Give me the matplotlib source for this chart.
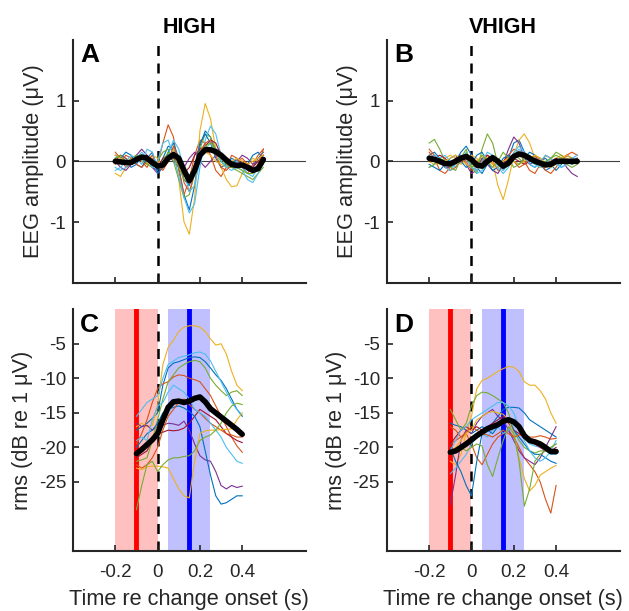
import numpy as np
import matplotlib
matplotlib.use('Agg')
import matplotlib.pyplot as plt

plt.rcParams['font.family'] = ['Liberation Sans', 'DejaVu Sans']

# time axes (s)
t_eeg = np.arange(-0.2, 0.5001, 0.025)
t_rms = np.arange(-0.1, 0.4001, 0.025)

# matlab default line colours, one per listener
subj_colors = ['#0072BD', '#D95319', '#EDB120', '#7E2F8E', '#77AC30', '#4DBEEE',
               '#A2142F', '#0072BD', '#D95319', '#EDB120', '#4DBEEE', '#77AC30']

# A: EEG amplitude, HIGH
eeg_high = [
    [0.05, 0.1, 0.0, -0.1, -0.05, 0.1, 0.05, -0.1, -0.15, 0.05, 0.25, 0.2, -0.1, -0.55, -0.8, -0.4, 0.25, 0.5, 0.4, 0.15, 0.0, -0.1, -0.05, 0.05, -0.05, -0.15, -0.1, 0.05, 0.15],
    [0.15, 0.05, -0.1, -0.05, 0.1, 0.0, -0.1, 0.05, -0.05, 0.3, 0.6, 0.4, -0.15, -0.55, -0.3, 0.1, 0.35, 0.3, 0.1, -0.15, -0.25, -0.1, 0.1, 0.05, -0.1, -0.2, -0.05, 0.1, 0.2],
    [-0.2, -0.25, -0.1, 0.05, 0.1, 0.0, -0.05, 0.1, 0.05, -0.1, 0.0, 0.2, -0.3, -1.0, -1.2, -0.6, 0.5, 0.95, 0.7, 0.2, -0.1, -0.3, -0.42, -0.4, -0.2, -0.05, 0.05, 0.0, -0.05],
    [0.0, -0.1, -0.15, -0.05, 0.1, 0.2, 0.1, -0.1, -0.2, -0.1, 0.1, 0.0, -0.1, -0.1, 0.05, 0.15, 0.0, -0.1, 0.0, 0.1, 0.05, -0.05, -0.1, 0.0, 0.1, 0.05, -0.05, 0.0, 0.1],
    [0.05, 0.0, -0.05, 0.05, 0.1, 0.05, -0.05, -0.1, 0.0, 0.15, 0.2, 0.0, -0.3, -0.6, -0.55, -0.2, 0.2, 0.45, 0.4, 0.2, 0.0, -0.1, -0.1, -0.15, -0.2, -0.25, -0.3, -0.2, -0.1],
    [-0.1, -0.15, -0.1, 0.0, 0.05, 0.15, 0.05, -0.1, 0.0, 0.3, 0.35, 0.1, -0.25, -0.6, -0.85, -0.7, -0.1, 0.35, 0.58, 0.45, 0.1, -0.1, -0.15, -0.1, -0.15, -0.3, -0.35, -0.2, 0.05],
    [0.0, 0.1, 0.05, -0.05, 0.0, 0.05, 0.1, 0.0, -0.1, 0.05, 0.1, 0.05, -0.05, -0.2, -0.1, 0.1, 0.2, 0.25, 0.35, 0.3, 0.1, -0.05, -0.1, -0.05, 0.0, -0.05, -0.1, 0.0, 0.1],
    [0.1, 0.05, 0.15, 0.1, -0.05, -0.1, 0.05, 0.15, -0.2, -0.1, 0.15, 0.3, 0.05, -0.3, -0.4, -0.1, 0.3, 0.45, 0.3, 0.05, -0.1, -0.05, 0.05, 0.0, -0.1, -0.05, 0.1, 0.15, 0.05],
    [-0.05, 0.0, 0.1, 0.05, -0.05, -0.1, 0.0, 0.1, -0.05, -0.15, 0.0, 0.25, 0.05, -0.35, -0.5, -0.2, 0.15, 0.3, 0.35, 0.1, -0.1, -0.15, -0.05, 0.0, 0.05, -0.05, -0.15, -0.05, 0.2],
    [0.1, 0.05, 0.0, -0.05, 0.0, 0.1, 0.05, 0.0, -0.1, 0.0, 0.1, 0.15, 0.0, -0.2, -0.25, -0.05, 0.1, 0.15, 0.1, 0.0, -0.05, -0.1, 0.0, 0.05, 0.0, -0.05, 0.0, 0.05, 0.1],
    [-0.15, -0.1, 0.0, 0.1, 0.05, -0.05, 0.2, 0.15, -0.1, -0.05, 0.1, 0.35, 0.2, -0.15, -0.5, -0.4, 0.0, 0.2, 0.3, 0.15, 0.0, -0.1, -0.05, 0.0, -0.1, -0.2, -0.25, -0.1, 0.0],
    [0.05, 0.1, 0.0, -0.05, 0.05, 0.1, 0.0, -0.05, -0.1, 0.0, 0.15, 0.1, -0.1, -0.3, -0.35, -0.1, 0.15, 0.25, 0.3, 0.2, 0.05, -0.05, -0.1, -0.1, -0.15, -0.2, -0.2, -0.1, 0.0],
]
eeg_high_mean = [0.0, -0.01, -0.02, -0.02, 0.03, 0.07, 0.05, -0.02, -0.08, -0.06, 0.05, 0.11, 0.05, -0.15, -0.32, -0.15, 0.1, 0.19, 0.19, 0.16, 0.1, 0.02, -0.05, -0.07, -0.06, -0.1, -0.15, -0.12, 0.03]

# B: EEG amplitude, VHIGH
eeg_vhigh = [
    [0.1, 0.15, 0.05, -0.05, -0.1, 0.0, 0.15, 0.25, 0.1, -0.1, -0.2, -0.05, 0.1, 0.0, -0.1, 0.05, 0.3, 0.35, 0.15, -0.05, -0.1, 0.0, 0.05, -0.05, -0.15, -0.05, 0.1, 0.05, 0.0],
    [0.15, 0.05, -0.15, -0.2, -0.1, 0.05, 0.1, 0.0, -0.15, -0.1, 0.05, 0.1, 0.0, -0.15, -0.1, 0.1, 0.2, 0.15, 0.0, -0.15, -0.2, -0.05, 0.1, 0.05, -0.05, 0.0, 0.1, 0.15, 0.1],
    [0.0, -0.05, 0.0, 0.05, 0.1, 0.05, -0.05, 0.0, 0.1, 0.05, -0.1, -0.05, 0.0, -0.4, -0.63, -0.3, 0.1, 0.35, 0.45, 0.3, 0.05, -0.1, -0.1, 0.0, 0.05, 0.1, 0.05, -0.05, 0.0],
    [0.05, 0.1, 0.0, -0.1, -0.1, 0.05, 0.1, -0.05, -0.2, -0.15, 0.05, -0.05, -0.15, -0.2, -0.05, 0.2, 0.4, 0.3, 0.05, -0.05, 0.0, 0.05, -0.05, -0.1, 0.0, 0.05, -0.1, -0.2, -0.25],
    [0.3, 0.36, 0.2, 0.0, -0.1, -0.05, 0.05, 0.1, -0.1, -0.2, 0.2, 0.45, 0.3, -0.05, -0.15, 0.0, 0.1, 0.05, -0.05, 0.0, 0.1, 0.05, -0.05, 0.05, 0.15, 0.1, 0.0, -0.05, 0.05],
    [-0.1, -0.05, 0.05, 0.1, 0.0, -0.1, 0.0, 0.15, 0.0, -0.2, -0.15, 0.0, 0.1, -0.05, -0.15, -0.05, 0.15, 0.25, 0.15, 0.0, -0.05, -0.1, -0.05, 0.05, 0.0, -0.1, -0.05, 0.05, 0.05],
    [0.0, 0.05, 0.1, 0.05, -0.05, -0.05, 0.05, 0.1, 0.0, -0.1, 0.0, 0.1, 0.05, -0.05, 0.0, 0.1, 0.05, 0.0, -0.05, 0.0, 0.05, 0.0, -0.05, 0.0, 0.05, 0.0, -0.05, 0.0, 0.05],
    [-0.05, -0.1, -0.15, -0.05, 0.05, 0.1, 0.0, -0.1, -0.05, 0.1, 0.15, 0.0, -0.15, -0.1, 0.05, 0.1, 0.0, -0.05, 0.05, 0.15, 0.1, -0.05, -0.15, -0.1, 0.0, 0.05, 0.0, -0.05, 0.0],
    [0.2, 0.1, 0.0, -0.1, -0.15, -0.1, 0.0, 0.05, 0.0, -0.05, 0.0, 0.05, -0.05, -0.1, 0.0, 0.05, 0.0, -0.1, -0.05, 0.05, 0.1, 0.0, -0.15, -0.2, -0.1, 0.05, 0.1, 0.05, -0.05],
    [0.05, 0.0, -0.05, 0.0, 0.05, 0.1, 0.05, -0.05, -0.1, 0.0, 0.1, 0.05, -0.05, -0.1, 0.0, 0.05, 0.0, -0.05, 0.0, 0.05, 0.1, 0.05, -0.05, -0.1, -0.05, 0.05, 0.1, 0.05, 0.0],
    [0.05, 0.1, 0.05, -0.1, -0.15, -0.05, 0.1, 0.05, -0.1, -0.15, 0.0, 0.15, 0.1, -0.1, -0.2, -0.1, 0.1, 0.2, 0.1, -0.05, -0.1, 0.0, 0.1, 0.05, -0.05, -0.1, -0.05, 0.05, 0.1],
    [-0.1, -0.05, 0.05, 0.0, -0.1, -0.15, 0.05, 0.2, -0.1, -0.05, 0.1, 0.0, -0.1, 0.0, 0.15, 0.05, -0.1, -0.05, 0.05, 0.1, 0.0, -0.05, 0.0, 0.05, 0.1, 0.05, -0.05, -0.1, -0.05],
]
eeg_vhigh_mean = [0.05, 0.03, 0.0, -0.04, -0.04, 0.0, 0.05, 0.08, 0.03, -0.06, -0.08, 0.0, 0.06, 0.0, -0.08, -0.03, 0.08, 0.12, 0.1, 0.05, 0.0, -0.03, -0.06, -0.05, 0.0, 0.0, 0.0, 0.0, 0.0]

# C: rms, HIGH (dB re 1 uV)
rms_high = [
    [-17.5, -17.0, -16.5, -15.8, -15.0, -11.0, -8.5, -7.8, -7.6, -7.3, -7.0, -6.9, -7.0, -7.6, -8.5, -9.5, -10.3, -11.5, -13.0, -14.5, -15.5],
    [-19.5, -18.0, -16.0, -13.5, -11.5, -10.8, -10.5, -9.8, -9.5, -9.6, -10.0, -10.2, -10.5, -11.5, -12.5, -14.0, -15.5, -17.0, -18.5, -19.8, -20.7],
    [-17.0, -16.5, -17.0, -16.8, -14.0, -8.0, -5.5, -4.5, -3.2, -2.6, -2.4, -2.4, -2.6, -3.2, -4.3, -5.2, -5.0, -6.5, -9.0, -11.0, -11.8],
    [-16.5, -17.0, -16.8, -17.5, -17.0, -16.8, -16.5, -16.6, -16.8, -16.2, -17.5, -19.5, -21.2, -21.8, -22.0, -23.5, -25.5, -26.0, -25.5, -25.8, -25.6],
    [-22.0, -21.8, -21.5, -19.0, -16.0, -13.0, -10.5, -9.5, -8.5, -8.0, -7.6, -7.4, -7.6, -8.5, -10.0, -11.0, -11.8, -12.5, -12.0, -11.8, -12.5],
    [-15.5, -14.5, -13.5, -13.0, -12.5, -10.0, -8.0, -7.5, -7.0, -6.8, -6.6, -6.3, -6.2, -6.5, -7.5, -9.0, -10.5, -12.0, -13.5, -14.5, -15.3],
    [-21.5, -21.0, -20.5, -19.0, -18.0, -17.8, -17.5, -17.6, -17.5, -17.2, -16.5, -15.5, -14.5, -15.0, -15.5, -16.0, -17.0, -18.0, -18.5, -19.0, -19.3],
    [-20.0, -19.0, -18.0, -17.5, -16.5, -15.0, -14.5, -14.2, -14.0, -14.3, -14.8, -15.5, -17.0, -20.5, -24.0, -27.0, -28.2, -28.0, -27.5, -27.0, -27.0],
    [-22.5, -23.0, -22.5, -21.5, -20.0, -17.5, -15.5, -14.5, -13.5, -13.0, -13.8, -14.5, -15.0, -15.8, -16.5, -17.0, -17.5, -18.0, -18.2, -18.5, -18.5],
    [-23.0, -23.2, -22.8, -22.7, -22.7, -22.8, -23.0, -24.5, -26.0, -27.0, -27.3, -22.0, -18.0, -17.6, -17.5, -17.5, -17.4, -17.4, -17.3, -16.0, -15.0],
    [-19.0, -18.5, -19.0, -16.0, -14.0, -13.5, -12.0, -11.0, -11.5, -12.0, -13.0, -14.5, -15.0, -15.5, -16.5, -17.5, -18.5, -20.0, -21.0, -22.0, -22.3],
    [-29.0, -25.5, -22.5, -22.0, -23.5, -22.5, -21.8, -21.5, -21.5, -21.3, -21.2, -20.5, -19.0, -18.5, -18.2, -17.5, -16.5, -15.0, -14.0, -13.6, -13.8],
]
rms_high_mean = [-20.9, -20.3, -19.6, -18.9, -18.0, -16.0, -14.2, -13.4, -13.3, -13.5, -13.3, -12.9, -12.7, -13.4, -14.4, -15.0, -15.6, -16.2, -16.8, -17.4, -18.1]

# D: rms, VHIGH
rms_vhigh = [
    [-16.5, -16.8, -17.0, -17.5, -18.0, -17.5, -17.0, -17.5, -16.5, -15.5, -14.5, -14.2, -14.2, -14.3, -15.0, -16.0, -16.5, -17.0, -17.5, -18.0, -18.5],
    [-19.5, -19.0, -18.5, -18.0, -19.5, -21.5, -22.5, -21.0, -19.5, -18.5, -18.0, -17.5, -18.5, -20.0, -21.5, -22.5, -23.5, -25.0, -27.5, -29.5, -25.5],
    [-22.0, -22.5, -21.0, -18.0, -15.5, -11.5, -10.3, -10.0, -9.5, -9.0, -8.6, -8.3, -8.4, -9.0, -10.5, -11.0, -11.0, -11.8, -13.0, -15.0, -16.5],
    [-28.3, -24.0, -19.0, -17.5, -18.0, -16.5, -15.5, -15.0, -14.5, -15.5, -16.0, -17.5, -19.0, -20.5, -21.5, -22.0, -22.5, -21.5, -20.0, -18.5, -17.0],
    [-14.5, -16.0, -17.5, -16.5, -14.0, -12.5, -12.0, -12.1, -12.5, -13.0, -13.5, -15.0, -17.5, -19.0, -20.0, -20.5, -20.8, -20.5, -20.5, -20.0, -19.5],
    [-23.8, -23.0, -22.0, -21.0, -19.5, -18.5, -18.0, -18.5, -17.5, -17.0, -18.0, -17.5, -16.5, -17.5, -18.5, -19.5, -19.8, -20.0, -20.5, -21.0, -21.0],
    [-19.5, -18.5, -17.5, -17.0, -17.5, -17.0, -17.5, -17.0, -16.5, -16.0, -15.5, -16.5, -17.5, -18.0, -18.5, -19.0, -19.5, -20.0, -20.5, -20.5, -20.0],
    [-20.0, -22.0, -23.5, -25.5, -27.0, -22.0, -18.0, -17.5, -18.0, -17.0, -16.5, -16.0, -17.5, -18.5, -19.5, -20.5, -21.0, -21.0, -21.5, -22.0, -22.3],
    [-17.0, -17.5, -18.5, -17.8, -17.0, -17.5, -18.0, -18.2, -18.5, -18.0, -17.5, -18.0, -18.5, -18.2, -18.3, -18.5, -18.5, -18.3, -18.5, -18.8, -18.7],
    [-20.5, -20.0, -19.0, -18.0, -17.5, -16.0, -15.5, -15.0, -14.8, -15.0, -15.2, -16.0, -18.0, -21.5, -24.5, -26.3, -25.5, -24.0, -23.5, -23.0, -22.6],
    [-20.5, -19.0, -17.5, -17.0, -16.0, -15.5, -15.0, -14.5, -14.0, -13.5, -13.5, -14.0, -15.0, -17.0, -19.0, -20.5, -21.5, -22.0, -21.5, -20.5, -19.0],
    [-21.0, -20.5, -20.0, -20.5, -20.0, -19.5, -19.8, -22.5, -24.2, -21.5, -19.0, -17.0, -18.0, -22.0, -28.5, -26.0, -22.0, -21.0, -20.5, -20.0, -19.5],
]
rms_vhigh_mean = [-20.7, -20.5, -20.0, -19.5, -18.9, -18.3, -17.8, -17.3, -17.0, -16.7, -16.2, -16.0, -16.3, -17.0, -18.3, -19.0, -19.2, -19.5, -20.0, -20.6, -20.6]

# analysis windows
pre_win = (-0.2, 0.0)
pre_centre = -0.1
post_win = (0.05, 0.25)
post_centre = 0.15

txt_col = '#262626'


def style_axes(ax):
    for side in ['top', 'right']:
        ax.spines[side].set_visible(False)
    for side in ['left', 'bottom']:
        ax.spines[side].set_linewidth(1.5)
        ax.spines[side].set_color(txt_col)
    ax.tick_params(direction='in', length=4, width=1.2, labelsize=13.5,
                   colors=txt_col)
    ax.tick_params(axis='x', pad=9)
    ax.tick_params(axis='y', pad=5)
    ax.set_xlim(-0.4, 0.7)
    ax.set_xticks([-0.2, 0, 0.2, 0.4])


def plot_eeg(ax, traces, mean, letter, title):
    style_axes(ax)
    ax.axhline(0, color='#404040', lw=0.8, zorder=1)
    ax.axvline(0, color='k', lw=1.8, ls=(0, (4, 3)), zorder=1)
    for tr, c in zip(traces, subj_colors):
        ax.plot(t_eeg, tr, color=c, lw=0.8, zorder=2)
    ax.plot(t_eeg, mean, color='k', lw=4, zorder=3, solid_capstyle='round')
    ax.set_ylim(-2, 2)
    ax.set_yticks([-1, 0, 1])
    ax.set_yticklabels(['-1', '0', '1'])
    ax.set_xticklabels([])
    ax.set_ylabel('EEG amplitude (μV)', fontsize=15.7, color=txt_col, labelpad=4)
    ax.text(0.03, 0.985, letter, transform=ax.transAxes, fontsize=19,
            fontweight='bold', va='top', ha='left')
    ax.set_title(title, fontsize=15.5, fontweight='bold', pad=5)


def plot_rms(ax, traces, mean, letter):
    style_axes(ax)
    ax.axvspan(*pre_win, color='#FFC0C0', lw=0, zorder=0)
    ax.axvspan(*post_win, color='#C0C0FF', lw=0, zorder=0)
    ax.axvline(pre_centre, color='#FF0000', lw=3.5, zorder=1)
    ax.axvline(post_centre, color='#0000FF', lw=3.5, zorder=1)
    ax.axvline(0, color='k', lw=1.8, ls=(0, (4, 3)), zorder=1)
    for tr, c in zip(traces, subj_colors):
        ax.plot(t_rms, tr, color=c, lw=0.8, zorder=2)
    ax.plot(t_rms, mean, color='k', lw=4, zorder=3, solid_capstyle='round')
    ax.set_ylim(-35, 0)
    ax.set_yticks([-25, -20, -15, -10, -5])
    ax.set_yticklabels(['-25', '-20', '-15', '-10', '-5'])
    ax.set_xticklabels(['-0.2', '0', '0.2', '0.4'])
    ax.set_ylabel('rms (dB re 1 μV)', fontsize=15.7, color=txt_col, labelpad=4)
    ax.set_xlabel('Time re change onset (s)', fontsize=15.7, color=txt_col,
                  labelpad=6)
    ax.text(0.03, 0.985, letter, transform=ax.transAxes, fontsize=19,
            fontweight='bold', va='top', ha='left')


fig = plt.figure(figsize=(6.29, 6.11), dpi=100)
axA = fig.add_axes([0.116, 0.537, 0.370, 0.398])
axB = fig.add_axes([0.615, 0.537, 0.370, 0.398])
axC = fig.add_axes([0.116, 0.098, 0.370, 0.396])
axD = fig.add_axes([0.615, 0.098, 0.370, 0.396])

plot_eeg(axA, eeg_high, eeg_high_mean, 'A', 'HIGH')
plot_eeg(axB, eeg_vhigh, eeg_vhigh_mean, 'B', 'VHIGH')
plot_rms(axC, rms_high, rms_high_mean, 'C')
plot_rms(axD, rms_vhigh, rms_vhigh_mean, 'D')

fig.savefig('out.png', dpi=100)
